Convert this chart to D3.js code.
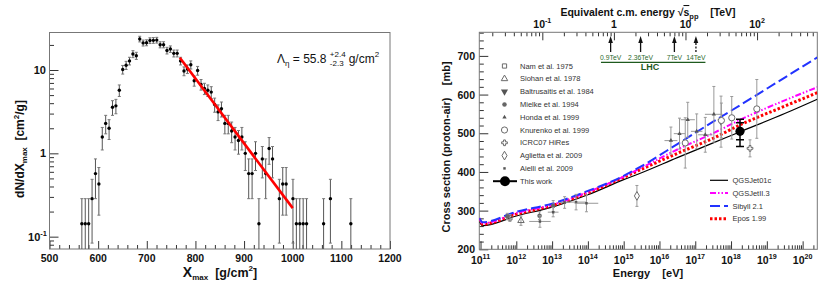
<!DOCTYPE html>
<html>
<head>
<meta charset="utf-8">
<script src="https://cdn.jsdelivr.net/npm/d3@7"></script>
<style>
  body { margin: 0; background: #fff; }
  svg text { font-family: "Liberation Sans", Arial, Helvetica, sans-serif; white-space: pre; }
</style>
</head>
<body>
<svg id="chart" width="830" height="281"></svg>
<script>
// ---------------- data: left panel (Xmax distribution, 7 g/cm2 bins) ----------------
const xmaxCenters = [566.5, 573.5, 580.5, 587.5, 594.5, 601.5, 608.5, 615.5, 622.5, 629.5,
  636.5, 643.5, 650.5, 657.5, 664.5, 671.5, 678.5, 685.5, 692.5, 699.5, 706.5, 713.5, 720.5,
  727.5, 734.5, 741.5, 748.5, 755.5, 762.5, 769.5, 776.5, 783.5, 790.5, 797.5, 804.5, 811.5,
  818.5, 825.5, 832.5, 839.5, 846.5, 853.5, 860.5, 867.5, 874.5, 881.5, 888.5, 895.5, 902.5,
  909.5, 916.5, 923.5, 930.5, 937.5, 944.5, 951.5, 958.5, 972.5, 979.5, 986.5, 1000.5,
  1007.5, 1014.5, 1021.5, 1028.5, 1063.5, 1077.5, 1119.5];
// events per bin
const xmaxCounts = [1, 1, 1, 2, 4, 3, 11, 16, 14, 25,
  26, 40, 71, 80, 90, 109, 104, 165, 148, 149, 158, 159, 160,
  141, 141, 120, 125, 111, 111, 90, 68, 72, 81, 52, 69, 47,
  42, 40, 38, 27, 22, 24, 16, 16, 13, 11, 10, 11, 7,
  4, 4, 7, 1, 6, 4, 8, 6, 2, 3, 3, 2,
  1, 1, 1, 1, 1, 2, 1];
const binWidth = 7;
const fitLine = [[768, 14.0], [1000, 0.22]];
const xTicksLeft = [500, 600, 700, 800, 900, 1000, 1100, 1200];

// ---------------- data: right panel (proton-air cross section) ----------------
// e = log10(E/eV), s = sigma [mb], err = vertical error, de = horizontal error (decades)
const namData = [{ e: 11.82, s: 281, err: 9 }];
const siohanData = [{ e: 12.13, s: 274, err: 12 }];
const baltrusaitisData = [{ e: 17.72, s: 530, err: 66 }];
const mielkeData = [{ e: 11.75, s: 285, err: 8 }, { e: 12.65, s: 287, err: 10 }, { e: 13.03, s: 312, err: 14 }];
const hondaData = [
  { e: 16.32, s: 481, err: 35, de: 0.18 }, { e: 16.56, s: 499, err: 40, de: 0.16 },
  { e: 16.79, s: 535, err: 45, de: 0.2 }, { e: 17.04, s: 505, err: 45, de: 0.16 },
  { e: 17.28, s: 496, err: 45, de: 0.2 }, { e: 17.52, s: 549, err: 72, de: 0.25 }];
const knurenkoData = [{ e: 16.72, s: 475, err: 65 }, { e: 17.73, s: 533, err: 45 },
  { e: 18.02, s: 540, err: 55 }, { e: 18.72, s: 563, err: 76 }];
const hiresData = [{ e: 18.53, s: 461, err: 22 }];
const agliettaData = [{ e: 15.37, s: 338, err: 27 }];
const aielliData = [
  { e: 12.66, s: 272, err: 15, de: 0.3 }, { e: 13.03, s: 296, err: 12, de: 0.15 },
  { e: 13.35, s: 321, err: 15, de: 0.16 }, { e: 13.67, s: 322, err: 20, de: 0.28 },
  { e: 13.96, s: 319, err: 22, de: 0.33 }];
const thisWork = { e: 18.25, s: 505, statLo: 483, statHi: 527, totLo: 466, totHi: 536 };

const qgsjet01 = [[10.966, 272], [11.06, 261], [12, 286], [13, 309], [14, 341], [15, 380],
  [15.5, 398], [16.5, 437], [17.5, 475], [18.26, 504], [19.5, 551], [20.41, 588]];
const qgsjetII = [[10.966, 280], [11.06, 267], [12, 294], [13, 315], [14, 348], [15, 388],
  [15.5, 411], [16.5, 458], [17.5, 500], [18.26, 535], [19.5, 585], [20.41, 619]];
const sibyll = [[10.966, 281], [11.06, 270], [12, 297], [13, 318], [14, 351], [14.8, 381],
  [15.5, 415], [16.5, 472], [17.5, 530], [18.26, 573], [19.5, 644], [20.41, 696]];
const epos = [[10.966, 279], [11.06, 265], [12, 291], [13, 313], [14, 346], [15, 386],
  [15.5, 407], [16.5, 448], [17.5, 487], [18.26, 522], [19.5, 570], [20.41, 605]];

const expNames = ["Nam et al. 1975", "Siohan et al. 1978", "Baltrusaitis et al. 1984",
  "Mielke et al. 1994", "Honda et al. 1999", "Knurenko et al. 1999", "ICRC07 HiRes",
  "Aglietta et al. 2009", "Aielli et al. 2009", "This work"];
const modelNames = ["QGSJet01c", "QGSJetII.3", "Sibyll 2.1", "Epos 1.99"];
const lhcEnergies = [0.9, 2.36, 7, 14]; // TeV
const lhcLabels = ["0.9TeV", "2.36TeV", "7TeV", "14TeV"];
const yTicksRight = [200, 300, 400, 500, 600, 700];

// ---------------- helpers ----------------
const svg = d3.select("#chart");

function ticksOnly(g, axisFn, scale, values, size) {
  g.call(axisFn(scale).tickValues(values).tickSize(size).tickFormat(""))
    .call(s => s.select(".domain").remove())
    .call(s => s.selectAll("line").attr("stroke", "#333"));
}

function powLabel(g, x, y, base, exp, size, anchor) {
  const t = g.append("text").attr("x", x).attr("y", y)
    .attr("text-anchor", anchor).attr("font-size", size).attr("font-weight", "bold").attr("fill", "#111");
  t.append("tspan").text(base);
  if (exp !== null) t.append("tspan").attr("dy", -size * 0.45).attr("font-size", size * 0.68).text(exp);
  return t;
}

// ================= LEFT PANEL =================
const L = { x0: 49.5, x1: 390, y0: 32.5, y1: 249 };
const xL = d3.scaleLinear().domain([500, 1200]).range([L.x0, L.x1]);
const yL = d3.scaleLog().domain([0.0711, 28.2]).range([L.y1, L.y0]);
const gL = svg.append("g");

gL.append("g").attr("transform", `translate(0,${L.y1})`)
  .call(g => ticksOnly(g, d3.axisBottom, xL, xTicksLeft, -8));
gL.append("g").attr("transform", `translate(0,${L.y1})`)
  .call(g => ticksOnly(g, d3.axisBottom, xL, d3.range(500, 1201, 20).filter(v => v % 100), -4));
const yMajL = [0.1, 1, 10];
gL.append("g").attr("transform", `translate(${L.x0},0)`)
  .call(g => ticksOnly(g, d3.axisLeft, yL, yMajL, -9));
gL.append("g").attr("transform", `translate(${L.x0},0)`)
  .call(g => ticksOnly(g, d3.axisLeft, yL, yL.ticks().filter(v => !yMajL.some(m => Math.abs(m - v) < 1e-9)), -4.5));

gL.append("rect").attr("x", L.x0).attr("y", L.y0).attr("width", L.x1 - L.x0).attr("height", L.y1 - L.y0)
  .attr("fill", "none").attr("stroke", "#777");

xTicksLeft.forEach(v => powLabel(gL, xL(v), 262, String(v), null, 10.5, "middle"));
powLabel(gL, 46, yL(10) + 4, "10", null, 11, "end");
powLabel(gL, 46, yL(1) + 4, "1", null, 11, "end");
powLabel(gL, 47, yL(0.1) + 4, "10", "-1", 11, "end");

// axis titles
const xt = gL.append("text").attr("x", 220).attr("y", 277).attr("text-anchor", "middle")
  .attr("font-weight", "bold").attr("font-size", 12.5).attr("fill", "#111");
xt.append("tspan").attr("font-size", 14).text("X");
xt.append("tspan").attr("font-size", 8).attr("dy", 3).text("max");
xt.append("tspan").attr("dy", -3).text("  [g/cm");
xt.append("tspan").attr("font-size", 8).attr("dy", -6).text("2");
xt.append("tspan").attr("dy", 6).text("]");

const yt = gL.append("text").attr("transform", `translate(24,149) rotate(-90)`)
  .attr("text-anchor", "middle").attr("font-weight", "bold").attr("font-size", 12).attr("fill", "#111");
yt.append("tspan").text("dN/dX");
yt.append("tspan").attr("font-size", 8).attr("dy", 3).text("max");
yt.append("tspan").attr("dy", -3).text("  [cm");
yt.append("tspan").attr("font-size", 8).attr("dy", -5).text("2");
yt.append("tspan").attr("dy", 5).text("/g]");

// histogram points with Poisson error bars
const hist = xmaxCenters.map((x, i) => {
  const n = xmaxCounts[i];
  return { x: x, v: n / binWidth, lo: (n - Math.sqrt(n)) / binWidth, hi: (n + Math.sqrt(n)) / binWidth };
});
const ymin = yL.domain()[0];
const gH = gL.append("g");
gH.selectAll("line.bar").data(hist).enter().append("line").attr("class", "bar")
  .attr("x1", d => xL(d.x)).attr("x2", d => xL(d.x))
  .attr("y1", d => yL(Math.max(d.lo, ymin))).attr("y2", d => yL(d.hi))
  .attr("stroke", "#555").attr("stroke-width", 1);
gH.selectAll("line.capHi").data(hist).enter().append("line").attr("class", "capHi")
  .attr("x1", d => xL(d.x) - 1.5).attr("x2", d => xL(d.x) + 1.5)
  .attr("y1", d => yL(d.hi)).attr("y2", d => yL(d.hi)).attr("stroke", "#777");
gH.selectAll("line.capLo").data(hist.filter(d => d.lo > ymin)).enter().append("line").attr("class", "capLo")
  .attr("x1", d => xL(d.x) - 1.5).attr("x2", d => xL(d.x) + 1.5)
  .attr("y1", d => yL(d.lo)).attr("y2", d => yL(d.lo)).attr("stroke", "#777");
gH.selectAll("circle").data(hist).enter().append("circle")
  .attr("cx", d => xL(d.x)).attr("cy", d => yL(d.v)).attr("r", 1.7).attr("fill", "#000");

gL.append("path").datum(fitLine)
  .attr("d", d3.line().x(d => xL(d[0])).y(d => yL(d[1])))
  .attr("stroke", "#f00").attr("stroke-width", 2.6).attr("fill", "none");

// annotation
const ax = 277, ay = 63;
const a1 = gL.append("text").attr("x", ax).attr("y", ay).attr("font-size", 12).attr("fill", "#111");
a1.append("tspan").text("\u039b");
a1.append("tspan").attr("font-size", 8).attr("dy", 3).text("\u03b7");
a1.append("tspan").attr("dy", -3).text(" = 55.8 ");
const w1 = a1.node().getComputedTextLength();
const sp = gL.append("text").attr("x", ax + w1).attr("y", ay - 6).attr("font-size", 8).attr("fill", "#111").text("+2.4");
const sb = gL.append("text").attr("x", ax + w1).attr("y", ay + 3).attr("font-size", 8).attr("fill", "#111").text("-2.3");
const w2 = Math.max(sp.node().getComputedTextLength(), sb.node().getComputedTextLength());
const a2 = gL.append("text").attr("x", ax + w1 + w2 + 3).attr("y", ay).attr("font-size", 12).attr("fill", "#111");
a2.append("tspan").text("g/cm");
a2.append("tspan").attr("font-size", 8).attr("dy", -6).text("2");

// ================= RIGHT PANEL =================
const R = { x0: 479.3, x1: 817.3, y0: 32.3, y1: 249.3 };
const xR = d3.scaleLog().domain([Math.pow(10, 10.966), Math.pow(10, 20.41)]).range([R.x0, R.x1]);
const yR = d3.scaleLinear().domain([200, 761]).range([R.y1, R.y0]);
const sqrtS = e => Math.sqrt(2 * 0.938e9 * e) / 1e12; // TeV
const xTop = d3.scaleLog().domain(xR.domain().map(sqrtS)).range([R.x0, R.x1]);
const ex = d => xR(Math.pow(10, d));
const gR = svg.append("g");

svg.append("clipPath").attr("id", "clipR").append("rect")
  .attr("x", R.x0).attr("y", R.y0).attr("width", R.x1 - R.x0).attr("height", R.y1 - R.y0);

// ticks
const eMaj = d3.range(11, 21).map(k => Math.pow(10, k));
gR.append("g").attr("transform", `translate(0,${R.y1})`)
  .call(g => ticksOnly(g, d3.axisBottom, xR, eMaj, -8));
gR.append("g").attr("transform", `translate(0,${R.y1})`)
  .call(g => ticksOnly(g, d3.axisBottom, xR, xR.ticks().filter(v => !eMaj.some(m => Math.abs(m / v - 1) < 1e-6)), -4));
const sMaj = [0.1, 1, 10, 100];
gR.append("g").attr("transform", `translate(0,${R.y0})`)
  .call(g => ticksOnly(g, d3.axisTop, xTop, sMaj, -8));
gR.append("g").attr("transform", `translate(0,${R.y0})`)
  .call(g => ticksOnly(g, d3.axisTop, xTop, xTop.ticks().filter(v => !sMaj.some(m => Math.abs(m / v - 1) < 1e-6)), -4));
gR.append("g").attr("transform", `translate(${R.x0},0)`)
  .call(g => ticksOnly(g, d3.axisLeft, yR, yTicksRight, -9));
gR.append("g").attr("transform", `translate(${R.x0},0)`)
  .call(g => ticksOnly(g, d3.axisLeft, yR, d3.range(200, 761, 20).filter(v => v % 100), -4.5));

gR.append("rect").attr("x", R.x0).attr("y", R.y0).attr("width", R.x1 - R.x0).attr("height", R.y1 - R.y0)
  .attr("fill", "none").attr("stroke", "#777");

eMaj.forEach(v => powLabel(gR, xR(v), 264, "10", String(Math.round(Math.log10(v))), 10.5, "middle"));
yTicksRight.forEach(v => powLabel(gR, 475, yR(v) + 4, String(v), null, 10.5, "end"));
powLabel(gR, xTop(0.1), 28, "10", "-1", 10.5, "middle");
powLabel(gR, xTop(1), 28, "1", null, 10.5, "middle");
powLabel(gR, xTop(10), 28, "10", null, 10.5, "middle");
powLabel(gR, xTop(100), 28, "10", "2", 10.5, "middle");

// titles
gR.append("text").attr("x", 648).attr("y", 277).attr("text-anchor", "middle")
  .attr("font-weight", "bold").attr("font-size", 11).attr("fill", "#111").text("Energy    [eV]");
const tt = gR.append("text").attr("x", 648).attr("y", 16).attr("text-anchor", "middle")
  .attr("font-weight", "bold").attr("font-size", 10.5).attr("fill", "#111");
tt.append("tspan").text("Equivalent c.m. energy \u221a");
tt.append("tspan").attr("text-decoration", "overline").text("s");
tt.append("tspan").attr("font-size", 7.5).attr("dy", 3).text("pp");
tt.append("tspan").attr("dy", -3).text("    [TeV]");
gR.append("text").attr("transform", `translate(450,147) rotate(-90)`).attr("text-anchor", "middle")
  .attr("font-weight", "bold").attr("font-size", 11).attr("fill", "#111")
  .text("Cross section (proton-air)    [mb]");

// LHC markers
const gLHC = gR.append("g");
lhcEnergies.forEach((s, i) => {
  const x = xTop(s);
  gLHC.append("line").attr("x1", x).attr("x2", x).attr("y1", 52).attr("y2", 41)
    .attr("stroke", "#111").attr("stroke-width", 1.3).attr("stroke-dasharray", s === 14 ? "2,1.5" : null);
  gLHC.append("path").attr("d", `M${x},36 L${x - 2.3},43 L${x + 2.3},43 Z`).attr("fill", "#111");
  gLHC.append("text").attr("x", x).attr("y", 60).attr("text-anchor", "middle")
    .attr("font-size", 6.8).attr("fill", "#2d6b2d").text(lhcLabels[i]);
});
gLHC.append("line").attr("x1", xTop(0.66)).attr("x2", xTop(19)).attr("y1", 62.3).attr("y2", 62.3)
  .attr("stroke", "#1e5a1e").attr("stroke-width", 1.3);
gLHC.append("text").attr("x", 650).attr("y", 70).attr("text-anchor", "middle").attr("font-weight", "bold")
  .attr("font-size", 9).attr("fill", "#1e5a1e").text("LHC");

// model curves
const models = [
  { data: qgsjet01, color: "#000", width: 1.2, dash: null },
  { data: qgsjetII, color: "#f0f", width: 2, dash: "6,2,1.5,2,1.5,2" },
  { data: sibyll, color: "#2233ff", width: 2, dash: "10,4" },
  { data: epos, color: "#f00", width: 3, dash: "2.5,2" }];
const curve = d3.line().x(d => ex(d[0])).y(d => yR(d[1])).curve(d3.curveMonotoneX);
const gC = gR.append("g").attr("clip-path", "url(#clipR)");
[0, 3, 1, 2].forEach(i => {
  const m = models[i];
  gC.append("path").datum(m.data).attr("d", curve).attr("fill", "none")
    .attr("stroke", m.color).attr("stroke-width", m.width).attr("stroke-dasharray", m.dash);
});

// experiment markers
const GREY = "#6a6a6a";
const sym = (type, size) => d3.symbol().type(type).size(size)();
const markers = [
  { data: namData, d: sym(d3.symbolSquare, 18), fill: "none", rot: 0 },
  { data: siohanData, d: sym(d3.symbolTriangle, 18), fill: "none", rot: 0 },
  { data: baltrusaitisData, d: sym(d3.symbolTriangle, 22), fill: "#555", rot: 180 },
  { data: mielkeData, d: sym(d3.symbolCircle, 16), fill: "#666", rot: 0 },
  { data: hondaData, d: sym(d3.symbolTriangle, 8), fill: "#555", rot: 0 },
  { data: knurenkoData, d: sym(d3.symbolCircle, 30), fill: "#fff", rot: 0 },
  { data: hiresData, d: sym(d3.symbolCross, 18), fill: "#fff", rot: 0 },
  { data: agliettaData, d: sym(d3.symbolDiamond, 22), fill: "#fff", rot: 0 },
  { data: aielliData, d: sym(d3.symbolSquare, 6), fill: "#555", rot: 0 }];

const gP = gR.append("g").attr("clip-path", "url(#clipR)");
markers.forEach(m => {
  m.data.forEach(p => {
    const x = ex(p.e), y = yR(p.s);
    const y1 = yR(p.s + p.err), y2 = yR(p.s - p.err);
    gP.append("line").attr("x1", x).attr("x2", x).attr("y1", y1).attr("y2", y2).attr("stroke", "#999");
    [y1, y2].forEach(yy => gP.append("line").attr("x1", x - 1.5).attr("x2", x + 1.5)
      .attr("y1", yy).attr("y2", yy).attr("stroke", "#999"));
    if (p.de) {
      gP.append("line").attr("x1", ex(p.e - p.de)).attr("x2", ex(p.e + p.de))
        .attr("y1", y).attr("y2", y).attr("stroke", "#999");
    }
    gP.append("path").attr("d", m.d).attr("transform", `translate(${x},${y}) rotate(${m.rot})`)
      .attr("fill", m.fill).attr("stroke", m.fill === "none" || m.fill === "#fff" ? GREY : "none");
  });
});

// this work
{
  const x = ex(thisWork.e);
  gP.append("line").attr("x1", x).attr("x2", x).attr("y1", yR(thisWork.totHi)).attr("y2", yR(thisWork.totLo))
    .attr("stroke", "#000").attr("stroke-width", 1.5);
  [thisWork.statLo, thisWork.statHi, thisWork.totLo, thisWork.totHi].forEach(v =>
    gP.append("line").attr("x1", x - 4).attr("x2", x + 4).attr("y1", yR(v)).attr("y2", yR(v))
      .attr("stroke", "#000").attr("stroke-width", 1.5));
  gP.append("circle").attr("cx", x).attr("cy", yR(thisWork.s)).attr("r", 4.6).attr("fill", "#000");
}

// legend: experiments
const gLeg = gR.append("g");
expNames.forEach((name, i) => {
  const y = 66 + 12.8 * i;
  if (i < markers.length) {
    const m = markers[i];
    gLeg.append("path").attr("d", m.d).attr("transform", `translate(504.5,${y}) rotate(${m.rot})`)
      .attr("fill", m.fill).attr("stroke", m.fill === "none" || m.fill === "#fff" ? GREY : "none");
  } else {
    gLeg.append("line").attr("x1", 493).attr("x2", 517).attr("y1", y).attr("y2", y)
      .attr("stroke", "#000").attr("stroke-width", 2);
    gLeg.append("circle").attr("cx", 505).attr("cy", y).attr("r", 5).attr("fill", "#000");
  }
  gLeg.append("text").attr("x", 520).attr("y", y).attr("dy", "0.35em").attr("font-size", 7.5)
    .attr("fill", "#333").text(name);
});
// legend: models
modelNames.forEach((name, i) => {
  const y = 180.3 + 12.8 * i, m = models[i];
  gLeg.append("line").attr("x1", 710).attr("x2", 728).attr("y1", y).attr("y2", y)
    .attr("stroke", m.color).attr("stroke-width", m.width).attr("stroke-dasharray", m.dash);
  gLeg.append("text").attr("x", 732.5).attr("y", y).attr("dy", "0.35em").attr("font-size", 7.5)
    .attr("fill", "#333").text(name);
});
</script>
</body>
</html>
